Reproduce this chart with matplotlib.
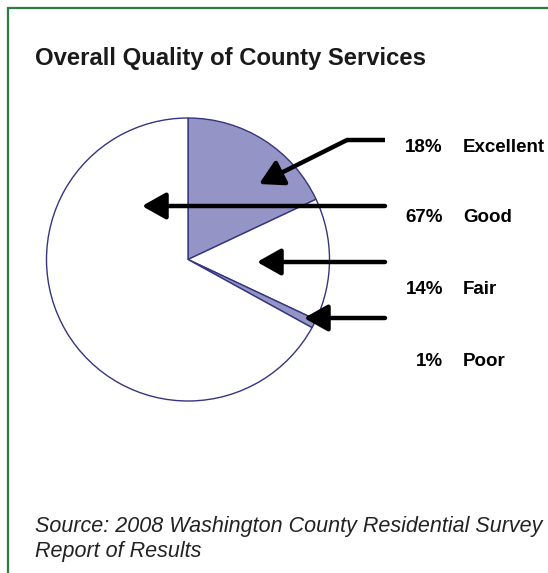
import matplotlib
matplotlib.use("Agg")
import matplotlib.pyplot as plt

# survey results
categories = ["Excellent", "Good", "Fair", "Poor"]
percents = [18, 67, 14, 1]
# order of the wedges going clockwise from 12 o'clock
pie_order = ["Excellent", "Fair", "Poor", "Good"]
shaded = ["Excellent", "Poor"]

title = "Overall Quality of County Services"
source = "Source: 2008 Washington County Residential Survey\nReport of Results"

W, H = 548, 573
fig = plt.figure(figsize=(W / 100, H / 100), dpi=100)
ax = fig.add_axes([0, 0, 1, 1])

font = ["Liberation Sans", "DejaVu Sans"]

# green frame along top and left
ax.plot([8, 8, W + 5], [-5, H - 8, H - 8], color="#2b7d3f", lw=1.6,
        solid_joinstyle="miter")

# pie, pixel coords with y going up
cx, cy, r = 188, H - 259.5, 141.5
vals = [percents[categories.index(c)] for c in pie_order]
cols = ["#9494c6" if c in shaded else "white" for c in pie_order]
ax.pie(vals, colors=cols, startangle=90, counterclock=False,
       center=(cx, cy), radius=r, frame=True,
       wedgeprops=dict(edgecolor="#35357f", linewidth=1.0))
ax.set_xlim(0, W)
ax.set_ylim(0, H)
ax.axis("off")

# arrows pointing into the slices
arr = dict(arrowstyle="-|>,head_length=0.8,head_width=0.45", color="black",
           lw=3.2, mutation_scale=18, shrinkA=0, shrinkB=0)
ax.plot([385, 347], [H - 140, H - 140], color="black", lw=3.2,
        solid_capstyle="butt")
ax.annotate("", xy=(259, H - 184), xytext=(347, H - 140), arrowprops=arr)
ax.annotate("", xy=(142, H - 206), xytext=(385, H - 206), arrowprops=arr)
ax.annotate("", xy=(257, H - 262), xytext=(385, H - 262), arrowprops=arr)
ax.annotate("", xy=(304, H - 318), xytext=(385, H - 318), arrowprops=arr)

# labels on the right
label_y = [147, 218, 290, 362]
for cat, p, y in zip(categories, percents, label_y):
    ax.text(443, H - y, f"{p}%", ha="right", va="center", fontsize=13.5,
            fontweight="bold", family=font)
    ax.text(463, H - y, cat, ha="left", va="center", fontsize=13.5,
            fontweight="bold", family=font)

ax.text(35, H - 58, title, ha="left", va="center", fontsize=17.2,
        fontweight="bold", family=font, color="#1a1a1a")
ax.text(35, H - 539, source, ha="left", va="center", fontsize=15.5,
        style="italic", family=font, color="#222222", linespacing=1.3)

fig.savefig("out.png", dpi=100)
